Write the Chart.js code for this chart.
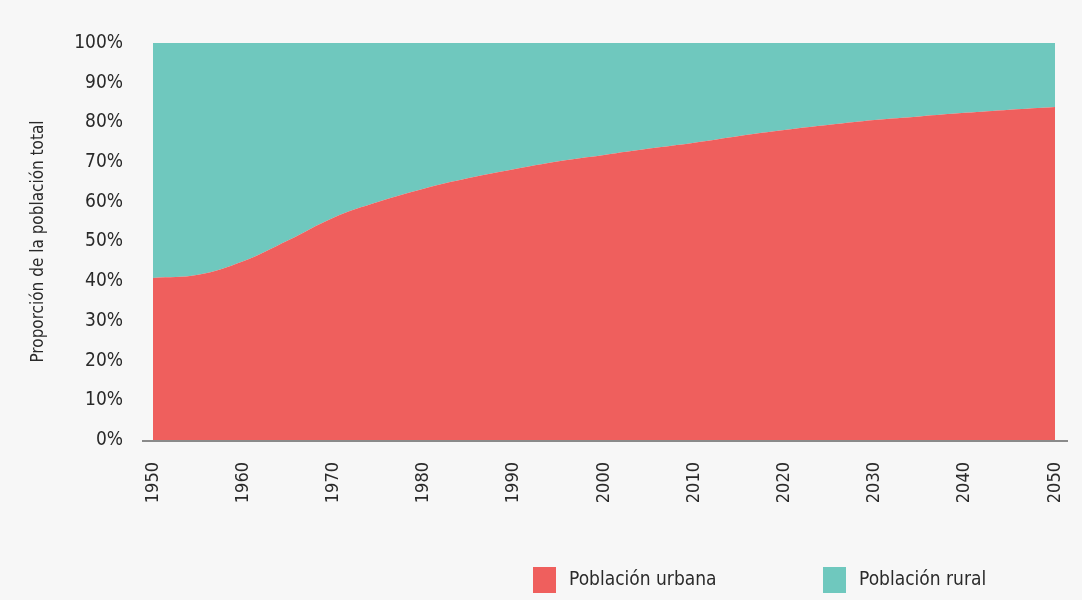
<!DOCTYPE html>
<html>
<head>
<meta charset="utf-8">
<script src="https://cdn.jsdelivr.net/npm/chart.js@4.4.1/dist/chart.umd.min.js"></script>
<style>
  html, body { margin: 0; padding: 0; background: #f7f7f7; }
  #wrap { width: 1082px; height: 600px; position: relative; }
</style>
</head>
<body>
<div id="wrap"><canvas id="c" width="1082" height="600"></canvas></div>
<script>
const years = [1950,1955,1960,1965,1970,1975,1980,1985,1990,1995,2000,2005,2010,2015,2020,2025,2030,2035,2040,2045,2050];
const urbanShare = [40.8,41.6,45.0,50.3,56.0,60.0,63.3,66.0,68.2,70.2,71.8,73.4,74.9,76.6,78.1,79.4,80.6,81.5,82.4,83.2,83.9];
const ruralShare = urbanShare.map(v => +(100 - v).toFixed(1));
const xTicks = [1950,1960,1970,1980,1990,2000,2010,2020,2030,2040,2050];
const yTicks = [0,10,20,30,40,50,60,70,80,90,100];
const seriesNames = ['Población urbana', 'Población rural'];
const yTitle = 'Proporción de la población total';

const RED = '#ef5f5d';
const TEAL = '#6fc8be';
const FONT = "'DejaVu Sans Condensed', 'Liberation Sans Narrow', sans-serif";
const TXT = '#2a2a2a';

const customLegend = {
  id: 'customLegend',
  afterDraw(chart) {
    const ctx = chart.ctx;
    const ca = chart.chartArea;
    ctx.save();
    ctx.strokeStyle = '#8a8a8a';
    ctx.lineWidth = 2;
    ctx.beginPath();
    ctx.moveTo(ca.left - 11, ca.bottom + 1);
    ctx.lineTo(ca.right + 13, ca.bottom + 1);
    ctx.stroke();
    const items = [
      { x: 533, text: chart.data.datasets[0].label, color: chart.data.datasets[0].backgroundColor },
      { x: 823, text: chart.data.datasets[1].label, color: chart.data.datasets[1].backgroundColor }
    ];
    ctx.font = '19px ' + FONT;
    ctx.textBaseline = 'middle';
    ctx.textAlign = 'left';
    items.forEach(it => {
      ctx.fillStyle = it.color;
      ctx.fillRect(it.x, 567, 23, 26);
      ctx.fillStyle = TXT;
      ctx.fillText(it.text, it.x + 36, 580);
    });
    ctx.restore();
  }
};

new Chart(document.getElementById('c'), {
  type: 'line',
  data: {
    datasets: [
      {
        label: seriesNames[0],
        data: years.map((y, i) => ({ x: y, y: urbanShare[i] })),
        backgroundColor: RED,
        borderColor: RED,
        borderWidth: 0,
        fill: 'origin',
        pointRadius: 0,
        tension: 0.4
      },
      {
        label: seriesNames[1],
        data: years.map((y, i) => ({ x: y, y: ruralShare[i] })),
        backgroundColor: TEAL,
        borderColor: TEAL,
        borderWidth: 0,
        fill: '-1',
        pointRadius: 0,
        tension: 0.4
      }
    ]
  },
  options: {
    responsive: false,
    animation: false,
    events: [],
    layout: { padding: { left: 28, right: 27, top: 43, bottom: 0 } },
    plugins: { legend: { display: false }, tooltip: { enabled: false } },
    scales: {
      x: {
        type: 'linear',
        min: 1950,
        max: 2050,
        afterBuildTicks: s => { s.ticks = xTicks.map(v => ({ value: v })); },
        afterFit: s => { s.height = 160; s.paddingLeft = 0; s.paddingRight = 0; },
        ticks: {
          autoSkip: false,
          minRotation: 90,
          maxRotation: 90,
          padding: 22,
          color: TXT,
          font: { family: FONT, size: 18 },
          callback: v => String(v)
        },
        grid: { display: false, drawTicks: false },
        border: { display: false }
      },
      y: {
        stacked: true,
        min: 0,
        max: 100,
        afterBuildTicks: s => { s.ticks = yTicks.map(v => ({ value: v })); },
        afterFit: s => { s.width = 125; s.paddingTop = 0; s.paddingBottom = 0; },
        ticks: {
          padding: 30,
          color: TXT,
          font: { family: FONT, size: 19 },
          callback: v => v + '%'
        },
        title: {
          display: true,
          text: yTitle,
          color: TXT,
          font: { family: FONT, size: 17 },
          padding: 0
        },
        grid: { display: false, drawTicks: false },
        border: { display: false }
      }
    }
  },
  plugins: [customLegend]
});
</script>
</body>
</html>
